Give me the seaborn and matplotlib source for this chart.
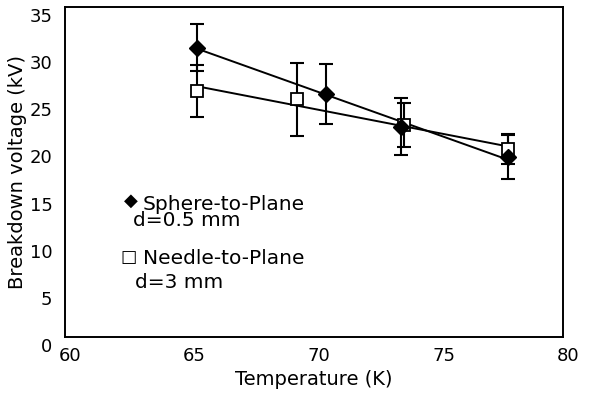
import numpy as np
import pandas as pd
import matplotlib
matplotlib.use("Agg")
import matplotlib.pyplot as plt
import matplotlib.transforms as mtrans
import seaborn as sns

# Data
sphere_T = [65.3, 70.5, 73.5, 77.8]
sphere_V = [30.7, 25.8, 22.3, 19.1]
sphere_err = [2.5, 3.2, 3.0, 2.3]

needle_T = [65.3, 69.3, 73.6, 77.8]
needle_V = [26.1, 25.2, 22.5, 19.9]
needle_err = [2.8, 3.9, 2.3, 1.6]

xticks = [60, 65, 70, 75, 80]
yticks = [0, 5, 10, 15, 20, 25, 30, 35]

sns.set_style("white")
plt.rcParams['font.family'] = ['DejaVu Sans']
plt.rcParams['text.color'] = 'black'
plt.rcParams['axes.labelcolor'] = 'black'
plt.rcParams['xtick.color'] = 'black'
plt.rcParams['ytick.color'] = 'black'

fig = plt.figure(figsize=(6.09, 3.99), dpi=100)
ax = fig.add_axes([65/609, 1-337/399, (563-65)/609, (337-7)/399])

df_s = pd.DataFrame({"T": sphere_T, "V": sphere_V})
df_n = pd.DataFrame({"T": needle_T, "V": needle_V})

# error bars
ax.errorbar(sphere_T, sphere_V, yerr=sphere_err, fmt='none', ecolor='black',
            elinewidth=1.5, capsize=5, capthick=1.5, zorder=2)
ax.errorbar(needle_T, needle_V, yerr=needle_err, fmt='none', ecolor='black',
            elinewidth=1.5, capsize=5, capthick=1.5, zorder=2)

# regression lines
sns.regplot(data=df_s, x="T", y="V", scatter=False, ci=None, ax=ax,
            line_kws=dict(color='black', lw=1.4, zorder=3))
sns.regplot(data=df_n, x="T", y="V", scatter=False, ci=None, ax=ax,
            line_kws=dict(color='black', lw=1.4, zorder=3))

# markers
ax.plot(sphere_T, sphere_V, linestyle='none', marker='D', markersize=8.5,
        markerfacecolor='black', markeredgecolor='black', zorder=5)
ax.plot(needle_T, needle_V, linestyle='none', marker='s', markersize=8.5,
        markerfacecolor='white', markeredgecolor='black', markeredgewidth=1.3, zorder=4)

ax.set_xlim(60, 80)
ax.set_ylim(0, 35)
ax.set_xticks(xticks)
ax.set_yticks(yticks)
ax.tick_params(axis='both', length=0, labelsize=13, colors='black')
ax.tick_params(axis='x', pad=7)
ax.tick_params(axis='y', pad=9)
for lab in ax.get_yticklabels():
    lab.set_transform(lab.get_transform() + mtrans.ScaledTranslation(0, -8/100, fig.dpi_scale_trans))
for lab in ax.get_xticklabels():
    lab.set_transform(lab.get_transform() + mtrans.ScaledTranslation(5/100, 0, fig.dpi_scale_trans))

ax.set_xlabel("Temperature (K)", fontsize=14, labelpad=4, color='black')
ax.set_ylabel("Breakdown voltage (kV)", fontsize=14, labelpad=2, color='black')

for sp in ax.spines.values():
    sp.set_color('black')
    sp.set_linewidth(1.4)

# in-plot legend
def ax_frac(px, py):
    return ((px - 65) / (563 - 65), (337 - py) / (337 - 7))

fs = 14.5
kw = dict(transform=ax.transAxes, va='center', color='black')
ax.text(*ax_frac(131, 201), "\u25C6", ha='center', fontsize=13, **kw)
ax.text(*ax_frac(143, 204), "Sphere-to-Plane", ha='left', fontsize=fs, **kw)
ax.text(*ax_frac(133, 221), "d=0.5 mm", ha='left', fontsize=fs, **kw)
ax.text(*ax_frac(129, 257), "\u25A1", ha='center', fontsize=12.5, **kw)
ax.text(*ax_frac(143, 259), "Needle-to-Plane", ha='left', fontsize=fs, **kw)
ax.text(*ax_frac(135, 283), "d=3 mm", ha='left', fontsize=fs, **kw)

fig.savefig("out.png", dpi=100)
